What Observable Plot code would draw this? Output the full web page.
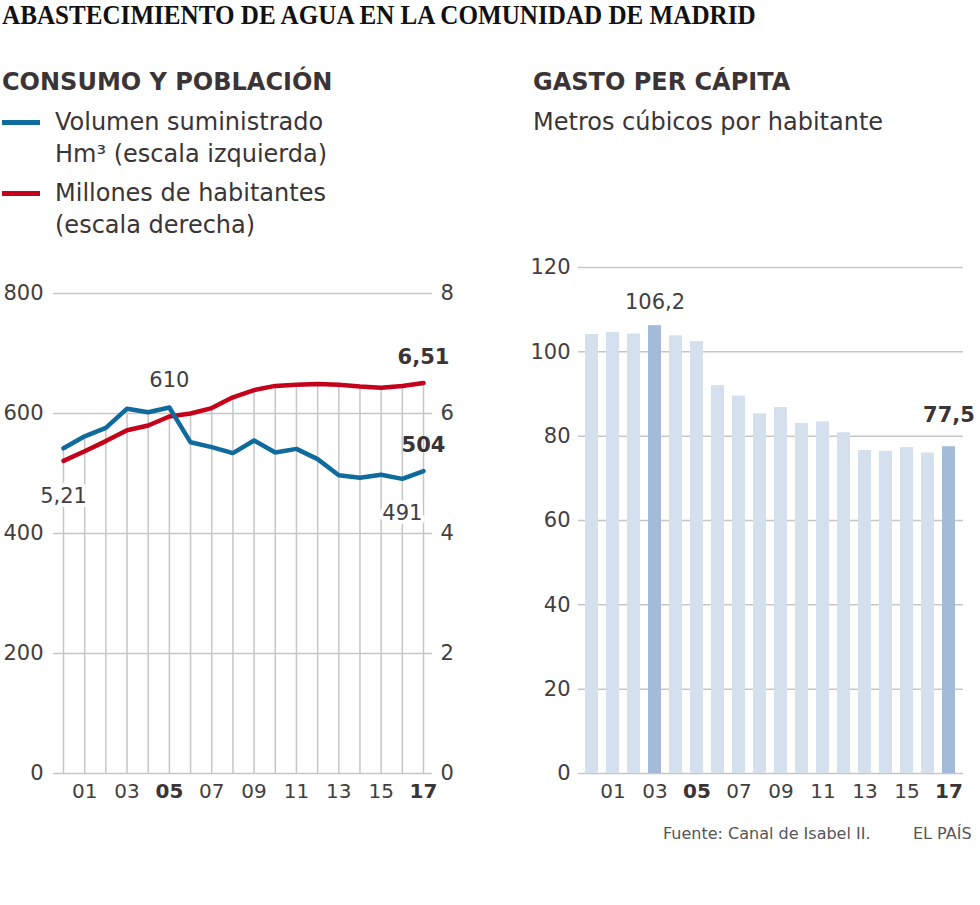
<!DOCTYPE html>
<html>
<head>
<meta charset="utf-8">
<script src="https://cdn.jsdelivr.net/npm/d3@7"></script>
<script src="https://cdn.jsdelivr.net/npm/@observablehq/plot@0.6"></script>
<style>
  html, body { margin: 0; padding: 0; background: #fff; }
  #page { position: relative; width: 980px; height: 905px; overflow: hidden; font-family: "DejaVu Sans", sans-serif; color: #3a3436; }
  .abs { position: absolute; white-space: nowrap; }
  #title { left: 2px; top: 2px; font-family: "Liberation Serif", serif; font-weight: bold; font-size: 27px; line-height: 27px; color: #111; transform: scaleX(0.93); transform-origin: 0 0; }
  .head { font-weight: bold; font-size: 24px; line-height: 24px; color: #3a3436; }
  .leg { font-size: 24px; line-height: 32px; color: #3a3436; }
  .sw { position: absolute; height: 5px; width: 38px; left: 2px; }
  .foot { font-size: 16px; line-height: 16px; color: #555; }
  #left, #right { position: absolute; }
</style>
</head>
<body>
<div id="page">
  <div id="title" class="abs">ABASTECIMIENTO DE AGUA EN LA COMUNIDAD DE MADRID</div>
  <div class="abs head" style="left:2px; top:70px;">CONSUMO Y POBLACIÓN</div>
  <div class="sw" style="top:120px; background:#0f6b9b;"></div>
  <div class="abs leg" style="left:55px; top:106px;">Volumen suministrado<br>Hm³ (escala izquierda)</div>
  <div class="sw" style="top:191px; background:#c4001a;"></div>
  <div class="abs leg" style="left:55px; top:177px;">Millones de habitantes<br>(escala derecha)</div>
  <div class="abs head" style="left:533px; top:70px;">GASTO PER CÁPITA</div>
  <div class="abs leg" style="left:533px; top:106px;">Metros cúbicos por habitante</div>
  <div class="abs foot" style="left:663px; top:826px;">Fuente: Canal de Isabel II.</div>
  <div class="abs foot" style="left:913px; top:826px;">EL PAÍS</div>
  <div id="left"></div>
  <div id="right"></div>
</div>
<script>
// ---- data ----
const years = [2000,2001,2002,2003,2004,2005,2006,2007,2008,2009,2010,2011,2012,2013,2014,2015,2016,2017];
const volumen = [542,562,576,608,602,610,552,544,534,555,535,541,524,497,493,498,491,504];
const habitantes = [5.21,5.37,5.54,5.72,5.80,5.95,6.00,6.09,6.27,6.39,6.46,6.48,6.49,6.48,6.45,6.43,6.46,6.51];
const gasto = [104.1,104.6,104.2,106.2,103.8,102.4,92.0,89.5,85.3,86.8,83.0,83.4,80.8,76.6,76.4,77.3,76.0,77.5];
const leftTicks = [0,200,400,600,800];
const rightTicks = [0,20,40,60,80,100,120];
const xTicksNormal = [2001,2003,2007,2009,2011,2013,2015];
const xTicksBold = [2005,2017];
const highlightYears = [2003,2017];

const BLUE = "#0f6b9b", RED = "#c4001a", GRID = "#c6c6c6", INK = "#3a3436", TICK = "#433e40";
const FONT = "'DejaVu Sans', sans-serif";
const yy = d => String(d % 100).padStart(2, "0");

const rows = years.map((y, i) => ({year: y, vol: volumen[i], hab: habitantes[i], hab100: habitantes[i] * 100, gasto: gasto[i]}));
const byYear = y => rows.find(r => r.year === y);

// ---- left chart ----
const left = Plot.plot({
  width: 470, height: 545,
  marginLeft: 63, marginRight: 47, marginTop: 23, marginBottom: 42,
  style: {fontFamily: FONT, color: INK, background: "transparent", overflow: "visible"},
  x: {type: "linear", domain: [2000, 2017]},
  y: {domain: [0, 800]},
  marks: [
    Plot.ruleY(leftTicks, {stroke: GRID, strokeWidth: 1.5, insetLeft: -10, insetRight: -9}),
    Plot.ruleX(rows, {x: "year", y1: 0, y2: d => Math.max(d.vol, d.hab100), stroke: GRID, strokeWidth: 1.5}),
    Plot.line(rows, {x: "year", y: "hab100", stroke: RED, strokeWidth: 4.5, strokeLinejoin: "round"}),
    Plot.line(rows, {x: "year", y: "vol", stroke: BLUE, strokeWidth: 4.5, strokeLinejoin: "round"}),
    Plot.axisY(leftTicks, {anchor: "left", tickSize: 0, tickPadding: 20, fontSize: 21, fill: TICK, label: null}),
    Plot.axisY(leftTicks, {anchor: "right", tickSize: 0, tickPadding: 17, fontSize: 21, fill: TICK, label: null, tickFormat: d => d / 100}),
    Plot.axisX(xTicksNormal, {tickSize: 0, tickPadding: 10, fontSize: 20, fill: TICK, label: null, tickFormat: yy}),
    Plot.axisX(xTicksBold, {tickSize: 0, tickPadding: 10, fontSize: 20, fontWeight: "bold", fill: INK, label: null, tickFormat: yy}),
    Plot.text([byYear(2005)], {x: "year", y: "vol", text: d => String(d.vol), dy: -27, fontSize: 21, fill: TICK}),
    Plot.text([byYear(2017)], {x: "year", y: "hab100", text: d => d.hab.toFixed(2).replace(".", ","), dy: -26, fontSize: 21, fontWeight: "bold", fill: INK}),
    Plot.text([byYear(2017)], {x: "year", y: "vol", text: d => String(d.vol), dy: -26, fontSize: 21, fontWeight: "bold", fill: INK}),
    Plot.text([byYear(2016)], {x: "year", y: "vol", text: d => String(d.vol), dy: 34, fontSize: 21, fill: TICK, stroke: "white", strokeWidth: 8}),
    Plot.text([byYear(2000)], {x: "year", y: "hab100", text: d => d.hab.toFixed(2).replace(".", ","), dy: 35, fontSize: 21, fill: TICK, stroke: "white", strokeWidth: 8})
  ]
});
const L = document.getElementById("left");
L.style.left = "0px"; L.style.top = "270px";
L.appendChild(left);

// ---- right chart ----
const right = Plot.plot({
  width: 460, height: 570,
  marginLeft: 54, marginRight: 13, marginTop: 22, marginBottom: 42,
  style: {fontFamily: FONT, color: INK, background: "transparent", overflow: "visible"},
  x: {type: "band", domain: years, padding: 0.37},
  y: {domain: [0, 120]},
  marks: [
    Plot.ruleY(rightTicks, {stroke: GRID, strokeWidth: 1.5, insetLeft: 4, insetRight: 4}),
    Plot.barY(rows, {x: "year", y: "gasto", fill: d => highlightYears.includes(d.year) ? "#a3bbd8" : "#d4e0ee"}),
    Plot.axisY(rightTicks, {anchor: "left", tickSize: 0, tickPadding: 4, fontSize: 21, fill: TICK, label: null}),
    Plot.axisX(xTicksNormal, {tickSize: 0, tickPadding: 10, fontSize: 20, fill: TICK, label: null, tickFormat: yy}),
    Plot.axisX(xTicksBold, {tickSize: 0, tickPadding: 10, fontSize: 20, fontWeight: "bold", fill: INK, label: null, tickFormat: yy}),
    Plot.text([byYear(2003)], {x: "year", y: "gasto", text: d => d.gasto.toFixed(1).replace(".", ","), dy: -23, fontSize: 21, fill: TICK}),
    Plot.text([byYear(2017)], {x: "year", y: "gasto", text: d => d.gasto.toFixed(1).replace(".", ","), dy: -31, fontSize: 21, fontWeight: "bold", fill: INK})
  ]
});
const R = document.getElementById("right");
R.style.left = "520px"; R.style.top = "245px";
R.appendChild(right);
</script>
</body>
</html>
